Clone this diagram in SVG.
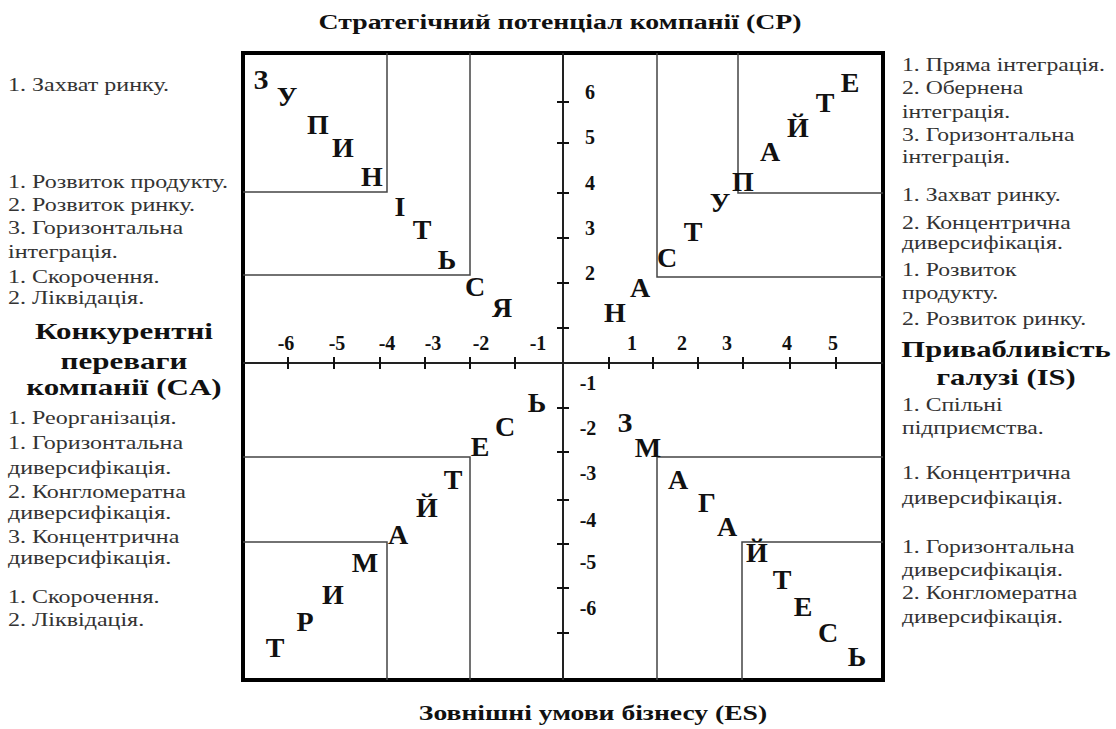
<svg xmlns="http://www.w3.org/2000/svg" width="1116" height="729" viewBox="0 0 1116 729">
<style>
.bg{fill:#fff}
.frame{fill:none;stroke:#000;stroke-width:4}
.zone{fill:none;stroke:#444;stroke-width:1.5}
.axis{fill:none;stroke:#222;stroke-width:2}
.tick{stroke:#111;stroke-width:2}
.big{font-family:"Liberation Serif","Times New Roman",serif;font-weight:bold;font-size:28px;fill:#111;text-anchor:middle}
.num{font-family:"Liberation Serif","Times New Roman",serif;font-weight:bold;font-size:20px;fill:#111;text-anchor:middle}
.txt{font-family:"Liberation Serif","Times New Roman",serif;font-size:18.5px;fill:#333}
.head{font-family:"Liberation Serif","Times New Roman",serif;font-weight:bold;font-size:23px;fill:#111;text-anchor:middle}
.title{font-family:"Liberation Serif","Times New Roman",serif;font-weight:bold;font-size:20px;fill:#111;text-anchor:middle}
</style>
<rect class="bg" x="0" y="0" width="1116" height="729"/>

<g id="titles">
<g transform="translate(560 0) scale(1.39 1) translate(-560 0)">
<text class="title" x="560" y="29">Стратегічний потенціал компанії (CP)</text>
</g>
<g transform="translate(593 0) scale(1.38 1) translate(-593 0)">
<text class="title" x="593" y="720">Зовнішні умови бізнесу (ES)</text>
</g>
</g>

<g id="frame">
<rect class="frame" x="243" y="53" width="640" height="627"/>
<line x1="244" y1="53" x2="244" y2="680" stroke="#000" stroke-width="2"/>
</g>

<g id="zones">
<polyline class="zone" points="387,53 387,192 243,192"/>
<polyline class="zone" points="470,53 470,275 243,275"/>
<polyline class="zone" points="657,53 657,277 883,277"/>
<polyline class="zone" points="738,53 738,193 883,193"/>
<polyline class="zone" points="243,457 470,457 470,680"/>
<polyline class="zone" points="243,542 387,542 387,680"/>
<polyline class="zone" points="883,457 657,457 657,680"/>
<polyline class="zone" points="883,542 742,542 742,680"/>
</g>

<g id="axes">
<line class="axis" x1="563" y1="53" x2="563" y2="680"/>
<line class="axis" x1="243" y1="363" x2="883" y2="363"/>
<g id="ticks">
<line class="tick" x1="557" y1="102" x2="569" y2="102"/>
<line class="tick" x1="557" y1="143" x2="569" y2="143"/>
<line class="tick" x1="557" y1="193" x2="569" y2="193"/>
<line class="tick" x1="557" y1="238" x2="569" y2="238"/>
<line class="tick" x1="557" y1="283" x2="569" y2="283"/>
<line class="tick" x1="557" y1="328" x2="569" y2="328"/>
<line class="tick" x1="557" y1="408" x2="569" y2="408"/>
<line class="tick" x1="557" y1="452" x2="569" y2="452"/>
<line class="tick" x1="557" y1="500" x2="569" y2="500"/>
<line class="tick" x1="557" y1="544" x2="569" y2="544"/>
<line class="tick" x1="557" y1="588" x2="569" y2="588"/>
<line class="tick" x1="557" y1="633" x2="569" y2="633"/>
<line class="tick" x1="288" y1="357" x2="288" y2="369"/>
<line class="tick" x1="334" y1="357" x2="334" y2="369"/>
<line class="tick" x1="380" y1="357" x2="380" y2="369"/>
<line class="tick" x1="425" y1="357" x2="425" y2="369"/>
<line class="tick" x1="470" y1="357" x2="470" y2="369"/>
<line class="tick" x1="515" y1="357" x2="515" y2="369"/>
<line class="tick" x1="609" y1="357" x2="609" y2="369"/>
<line class="tick" x1="653" y1="357" x2="653" y2="369"/>
<line class="tick" x1="698" y1="357" x2="698" y2="369"/>
<line class="tick" x1="743" y1="357" x2="743" y2="369"/>
<line class="tick" x1="790" y1="357" x2="790" y2="369"/>
<line class="tick" x1="836" y1="357" x2="836" y2="369"/>
</g>
<g id="axis-labels">
<text class="num" x="590" y="99">6</text>
<text class="num" x="590" y="144">5</text>
<text class="num" x="590" y="190">4</text>
<text class="num" x="590" y="235">3</text>
<text class="num" x="590" y="280">2</text>
<text class="num" x="588" y="390">-1</text>
<text class="num" x="588" y="435">-2</text>
<text class="num" x="588" y="480">-3</text>
<text class="num" x="588" y="527">-4</text>
<text class="num" x="588" y="569">-5</text>
<text class="num" x="588" y="615">-6</text>
<text class="num" x="286" y="350">-6</text>
<text class="num" x="337" y="350">-5</text>
<text class="num" x="387" y="350">-4</text>
<text class="num" x="433" y="350">-3</text>
<text class="num" x="481" y="350">-2</text>
<text class="num" x="538" y="350">-1</text>
<text class="num" x="632" y="350">1</text>
<text class="num" x="682" y="350">2</text>
<text class="num" x="727" y="350">3</text>
<text class="num" x="787" y="350">4</text>
<text class="num" x="833" y="350">5</text>
</g>
</g>

<g id="word-top-left">
<text class="big" x="261" y="89">З</text>
<text class="big" x="287" y="106">У</text>
<text class="big" x="318" y="134">П</text>
<text class="big" x="343" y="157">И</text>
<text class="big" x="372" y="186">Н</text>
<text class="big" x="400" y="216">І</text>
<text class="big" x="422" y="239">Т</text>
<text class="big" x="447" y="269">Ь</text>
<text class="big" x="475" y="296">С</text>
<text class="big" x="502" y="317">Я</text>
</g>

<g id="word-top-right">
<text class="big" x="615" y="322">Н</text>
<text class="big" x="640" y="297">А</text>
<text class="big" x="667" y="267">С</text>
<text class="big" x="693" y="241">Т</text>
<text class="big" x="720" y="212">У</text>
<text class="big" x="743" y="191">П</text>
<text class="big" x="770" y="161">А</text>
<text class="big" x="798" y="137">Й</text>
<text class="big" x="825" y="112">Т</text>
<text class="big" x="850" y="92">Е</text>
</g>

<g id="word-bottom-left">
<text class="big" x="275" y="657">Т</text>
<text class="big" x="305" y="631">Р</text>
<text class="big" x="333" y="604">И</text>
<text class="big" x="365" y="572">М</text>
<text class="big" x="398" y="544">А</text>
<text class="big" x="427" y="517">Й</text>
<text class="big" x="453" y="489">Т</text>
<text class="big" x="480" y="456">Е</text>
<text class="big" x="505" y="436">С</text>
<text class="big" x="537" y="412">Ь</text>
</g>

<g id="word-bottom-right">
<text class="big" x="625" y="432">З</text>
<text class="big" x="648" y="457">М</text>
<text class="big" x="678" y="489">А</text>
<text class="big" x="707" y="512">Г</text>
<text class="big" x="727" y="536">А</text>
<text class="big" x="757" y="562">Й</text>
<text class="big" x="782" y="589">Т</text>
<text class="big" x="803" y="616">Е</text>
<text class="big" x="828" y="642">С</text>
<text class="big" x="857" y="666">Ь</text>
</g>

<g id="left-notes">
<g transform="translate(8 0) scale(1.3 1) translate(-8 0)">
<text class="txt" x="8" y="91">1. Захват ринку.</text>
<text class="txt" x="8" y="188">1. Розвиток продукту.</text>
<text class="txt" x="8" y="211">2. Розвиток ринку.</text>
<text class="txt" x="8" y="234">3. Горизонтальна</text>
<text class="txt" x="8" y="258">інтеграція.</text>
<text class="txt" x="8" y="283">1. Скорочення.</text>
<text class="txt" x="8" y="304">2. Ліквідація.</text>
<text class="txt" x="8" y="424">1. Реорганізація.</text>
<text class="txt" x="8" y="449">1. Горизонтальна</text>
<text class="txt" x="8" y="474">диверсифікація.</text>
<text class="txt" x="8" y="498">2. Конгломератна</text>
<text class="txt" x="8" y="519">диверсифікація.</text>
<text class="txt" x="8" y="543">3. Концентрична</text>
<text class="txt" x="8" y="564">диверсифікація.</text>
<text class="txt" x="8" y="603">1. Скорочення.</text>
<text class="txt" x="8" y="626">2. Ліквідація.</text>
</g>
<g transform="translate(124 0) scale(1.35 1) translate(-124 0)">
<text class="head" x="124" y="339">Конкурентні</text>
<text class="head" x="124" y="369">переваги</text>
<text class="head" x="124" y="395">компанії (CA)</text>
</g>
</g>

<g id="right-notes">
<g transform="translate(902 0) scale(1.28 1) translate(-902 0)">
<text class="txt" x="902" y="71">1. Пряма інтеграція.</text>
<text class="txt" x="902" y="94">2. Обернена</text>
<text class="txt" x="902" y="118">інтеграція.</text>
<text class="txt" x="902" y="141">3. Горизонтальна</text>
<text class="txt" x="902" y="163">інтеграція.</text>
<text class="txt" x="902" y="201">1. Захват ринку.</text>
<text class="txt" x="902" y="229">2. Концентрична</text>
<text class="txt" x="902" y="249">диверсифікація.</text>
<text class="txt" x="902" y="276">1. Розвиток</text>
<text class="txt" x="902" y="299">продукту.</text>
<text class="txt" x="902" y="325">2. Розвиток ринку.</text>
<text class="txt" x="902" y="411">1. Спільні</text>
<text class="txt" x="902" y="434">підприємства.</text>
<text class="txt" x="902" y="479">1. Концентрична</text>
<text class="txt" x="902" y="504">диверсифікація.</text>
<text class="txt" x="902" y="553">1. Горизонтальна</text>
<text class="txt" x="902" y="576">диверсифікація.</text>
<text class="txt" x="902" y="599">2. Конгломератна</text>
<text class="txt" x="902" y="623">диверсифікація.</text>
</g>
<g transform="translate(1006 0) scale(1.33 1) translate(-1006 0)">
<text class="head" x="1006" y="357">Привабливість</text>
<text class="head" x="1006" y="385">галузі (IS)</text>
</g>
</g>
</svg>
